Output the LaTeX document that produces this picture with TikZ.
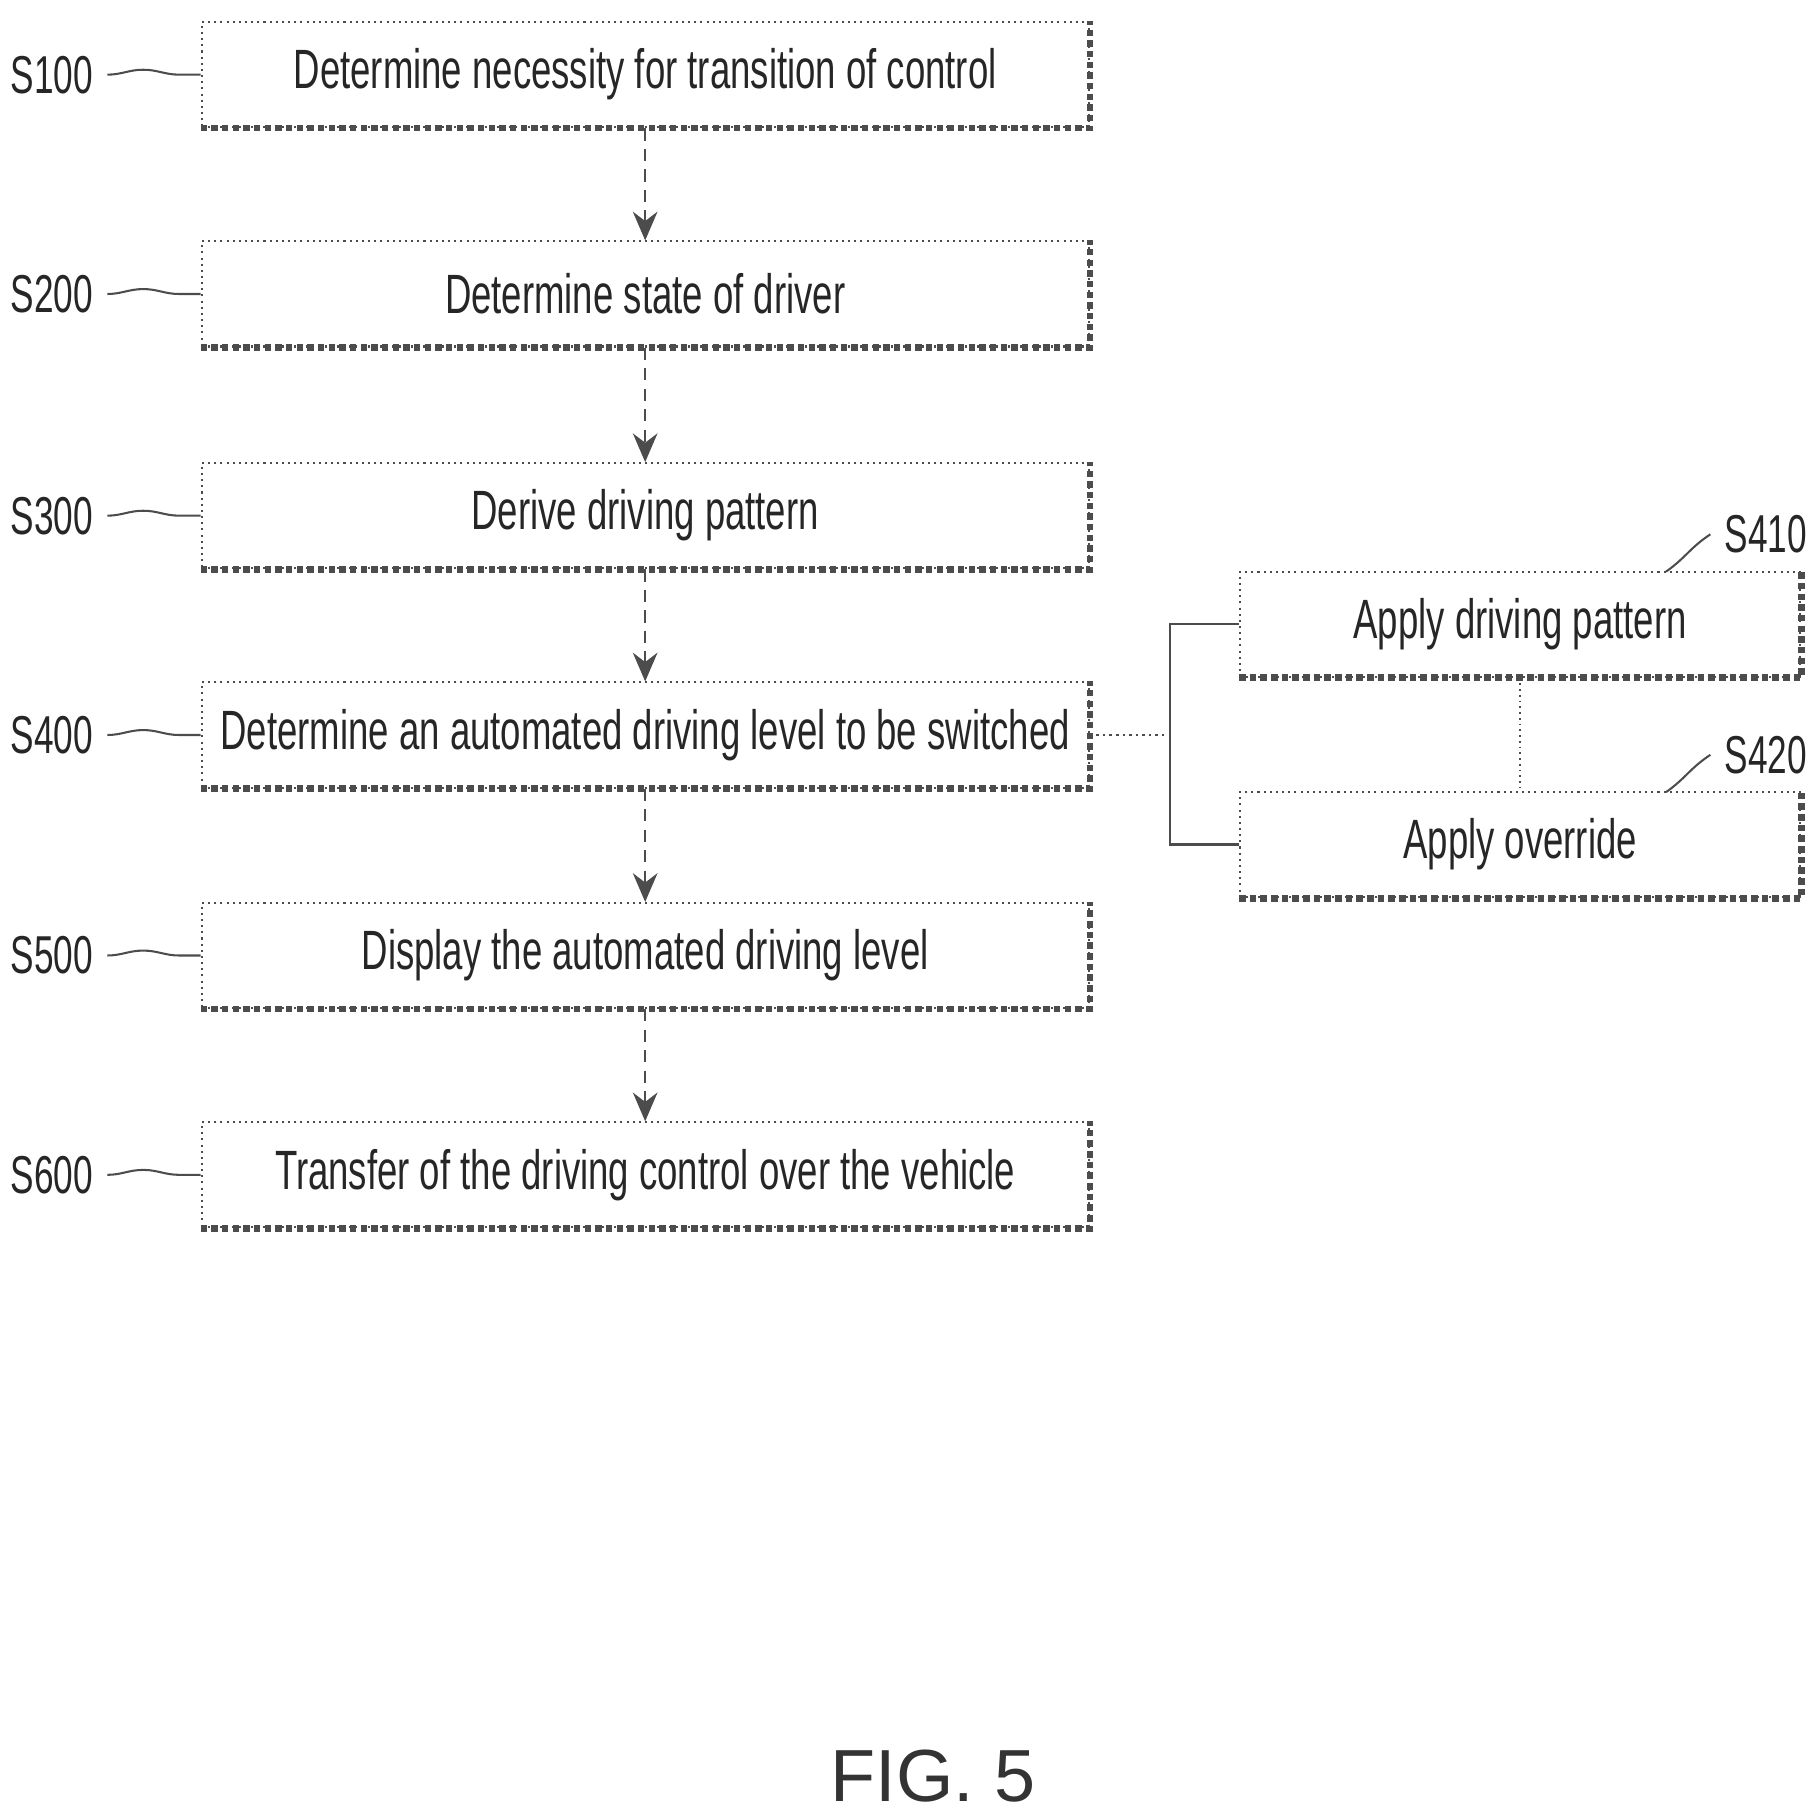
\documentclass[tikz,border=0pt]{standalone}
\usepackage{fontspec}
\setmainfont{Liberation Sans}
\newfontfamily\nar[FakeStretch=0.66]{Liberation Sans}
\usetikzlibrary{arrows.meta,decorations.pathmorphing}
\begin{document}
\begin{tikzpicture}[x=0.01cm,y=-0.01cm,
  box/.style={draw=black!70,line width=0.5pt,densely dotted,minimum height=0.9cm,inner sep=0pt,font=\nar\fontsize{13.5}{15}\selectfont,text=black!85},
  arr/.style={draw=black!70,densely dashed,line width=0.6pt,-{Stealth[length=7pt,width=6pt]}},
  ln/.style={draw=black!70,densely dotted,line width=0.6pt},
  lab/.style={font=\nar\fontsize{13}{15}\selectfont,text=black!85},
  sq/.style={draw=black!70,line width=0.5pt,decorate,decoration={snake,amplitude=1.2pt,segment length=28pt}}]
\useasboundingbox (0,0) rectangle (1560,1555);
\tikzset{mk/.style={box,minimum width=7.6cm}}
\foreach \n/\y/\t in {1/64/Determine necessity for transition of control,2/252/Determine state of driver,3/442/Derive driving pattern,4/630/Determine an automated driving level to be switched,5/819/Display the automated driving level,6/1007/Transfer of the driving control over the vehicle}{
  \node[mk] (b\n) at (553,\y) {\t};
  \draw[black!70,line width=1.6pt,densely dotted] (b\n.south west) -- (b\n.south east) -- (b\n.north east);
  \node[lab,anchor=east] (l\n) at (92,\y) {S\n00};
  \draw[sq] (l\n.east) -- (b\n.west);
}
\foreach \a/\b in {1/2,2/3,3/4,4/5,5/6}{\draw[arr] (b\a) -- (b\b);}
\node[box,minimum width=4.8cm] (c1) at (1303,535) {Apply driving pattern};
\node[box,minimum width=4.8cm] (c2) at (1303,724) {Apply override};
\foreach \c in {c1,c2}{\draw[black!70,line width=1.6pt,densely dotted] (\c.south west) -- (\c.south east) -- (\c.north east);}
\node[lab,anchor=west] (l41) at (1466,458) {S410};
\node[lab,anchor=west] (l42) at (1466,647) {S420};
\coordinate (q1) at (1428,490);
\coordinate (q2) at (1428,679);
\draw[draw=black!70,line width=0.5pt] (q1) .. controls (1445,478) and (1448,470) .. (l41.west);
\draw[draw=black!70,line width=0.5pt] (q2) .. controls (1445,667) and (1448,659) .. (l42.west);
\coordinate (j) at (1003,630);
\draw[ln] (b4.east) -- (j);
\draw[draw=black!70,line width=0.6pt] (c1.west) -| (j) |- (c2.west);
\draw[ln,line width=0.4pt] (c1) -- (c2);
\node[font=\fontsize{18}{22}\selectfont,text=black!80] (fig) at (800,1522) {FIG. 5};
\end{tikzpicture}
\end{document}
